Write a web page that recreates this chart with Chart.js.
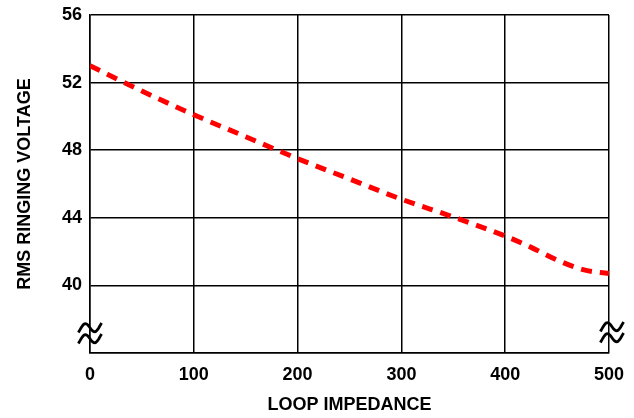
<!DOCTYPE html>
<html>
<head>
<meta charset="utf-8">
<script src="https://cdn.jsdelivr.net/npm/chart.js@4.4.1/dist/chart.umd.min.js"></script>
<style>
    html, body { margin: 0; padding: 0; background: #fff; }
    #wrap { width: 634px; height: 418px; }
</style>
</head>
<body>
<div id="wrap"><canvas id="ringChart"></canvas></div>
<script>
// Loop impedance vs RMS ringing voltage
const impedance = [0, 50, 100, 150, 200, 250, 300, 350, 400, 425, 450, 475, 500];
const ringVoltage = [53.0, 51.5, 50.1, 48.8, 47.5, 46.3, 45.1, 44.05, 42.92, 42.25, 41.5, 40.93, 40.7];
const yTicks = [36, 40, 44, 48, 52, 56];
const xTicks = [0, 100, 200, 300, 400, 500];

const labelFont = { family: "'Liberation Sans', Arial, sans-serif", size: 18, weight: 'bold' };
const titleFont = { family: "'Liberation Sans', Arial, sans-serif", size: 18, weight: 'bold' };

// one tilde centred on (cx, cy)
function tilde(ctx, cx, cy) {
    ctx.beginPath();
    for (let i = 0; i <= 24; i++) {
        const t = -0.08 + 1.16 * i / 24;
        const x = cx - 10 + 20 * t;
        const y = cy - 5 * Math.sin(2 * Math.PI * t) - 4 * (t - 0.5);
        if (i === 0) ctx.moveTo(x, y); else ctx.lineTo(x, y);
    }
    ctx.stroke();
}

// axis break marks at the bottom corners
const breakMarks = {
    id: 'breakMarks',
    afterDraw(chart) {
        const ctx = chart.ctx;
        const area = chart.chartArea;
        const y = chart.scales.y.getPixelForValue(37.2);
        ctx.save();
        ctx.strokeStyle = '#000';
        ctx.lineWidth = 2.8;
        tilde(ctx, area.left, y - 5);
        tilde(ctx, area.left, y + 6);
        tilde(ctx, area.right + 3, y - 6);
        tilde(ctx, area.right + 3, y + 5);
        ctx.restore();
    }
};

const ctx = document.getElementById('ringChart').getContext('2d');
const ringChart = new Chart(ctx, {
    type: 'line',
    data: {
        datasets: [{
            data: impedance.map((x, i) => ({ x: x, y: ringVoltage[i] })),
            borderColor: '#ff0000',
            borderWidth: 5,
            borderDash: [11, 8],
            pointRadius: 0,
            cubicInterpolationMode: 'monotone',
            fill: false
        }]
    },
    options: {
        responsive: true,
        maintainAspectRatio: false,
        animation: false,
        layout: {
            padding: { top: 15, right: 25, left: 0, bottom: 0 }
        },
        plugins: {
            legend: { display: false },
            tooltip: { enabled: false }
        },
        scales: {
            x: {
                type: 'linear',
                min: 0,
                max: 500,
                afterBuildTicks: (scale) => { scale.ticks = xTicks.map(v => ({ value: v })); },
                afterFit: (scale) => {
                    scale.height = 65;
                    scale.paddingLeft = 0;
                    scale.paddingRight = 0;
                },
                grid: { color: '#000', lineWidth: 1.5, drawTicks: false },
                border: { color: '#000', width: 1.5 },
                ticks: { color: '#000', font: labelFont, padding: 11 },
                title: {
                    display: true,
                    text: 'LOOP IMPEDANCE',
                    color: '#000',
                    font: titleFont,
                    padding: { top: 4, bottom: 2 }
                }
            },
            y: {
                min: 36,
                max: 56,
                afterBuildTicks: (scale) => { scale.ticks = yTicks.map(v => ({ value: v })); },
                afterFit: (scale) => {
                    scale.width = 90;
                    scale.paddingTop = 0;
                    scale.paddingBottom = 0;
                },
                grid: { color: '#000', lineWidth: 1.5, drawTicks: false },
                border: { color: '#000', width: 1.5 },
                ticks: {
                    color: '#000',
                    font: labelFont,
                    padding: 8,
                    callback: (v) => v === 36 ? '' : v
                },
                title: {
                    display: true,
                    text: 'RMS RINGING VOLTAGE',
                    color: '#000',
                    font: titleFont,
                    padding: { top: 14, bottom: 4 }
                }
            }
        }
    },
    plugins: [breakMarks]
});
</script>
</body>
</html>
